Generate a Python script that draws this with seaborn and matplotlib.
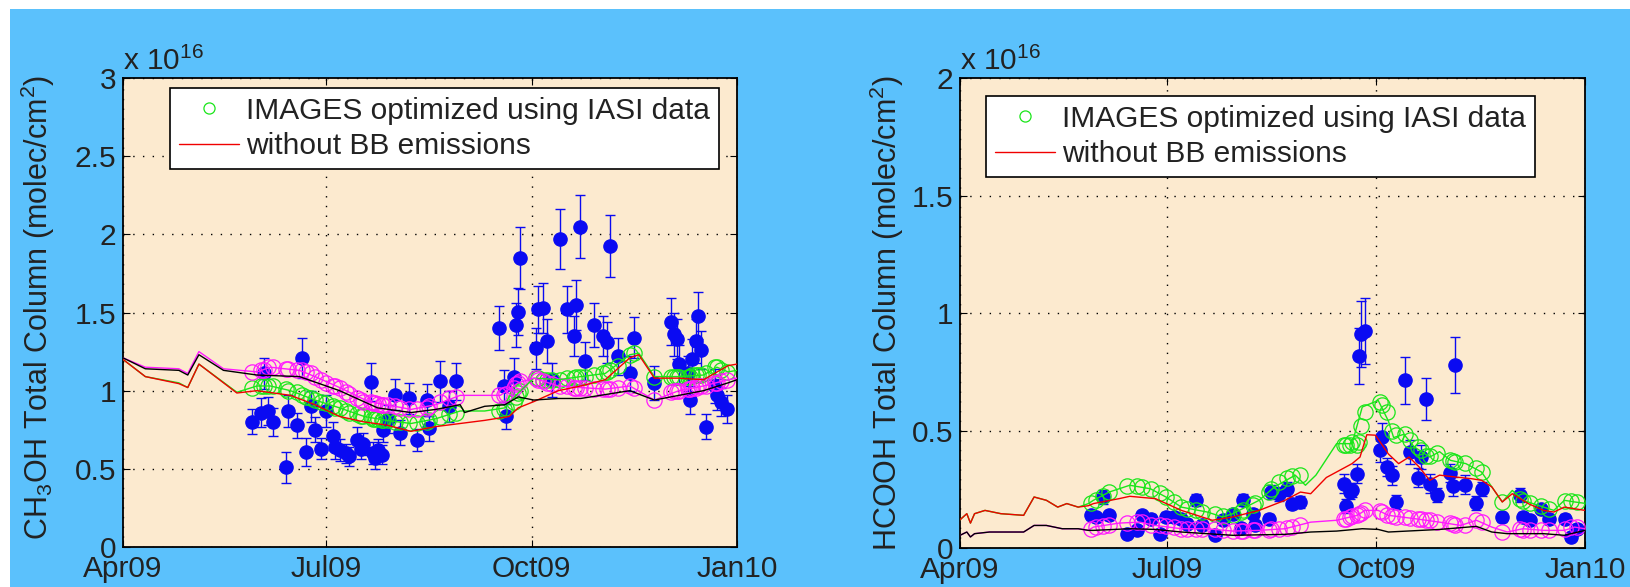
"""
CH3OH and HCOOH total columns: FTIR observations vs IMAGES model runs, Apr 2009 - Jan 2010
"""
import matplotlib
matplotlib.use('Agg')
import matplotlib.pyplot as plt
import matplotlib.dates as mdates
from matplotlib.lines import Line2D
from matplotlib.patches import Rectangle
import pandas as pd
import seaborn as sns

START = pd.Timestamp('2009-04-01')
END = pd.Timestamp('2010-01-01')

# all values in 1e16 molec/cm2, days counted from 1 Apr 2009

# ---- CH3OH ----
ch3oh_obs_day = [57.6, 62, 63, 65, 67, 73, 74, 78, 80, 82, 84, 86, 88.5, 91, 94, 95, 97, 100, 101,
                 105, 106.5, 107.6, 111, 112, 113, 114, 116, 116.5, 118.5, 122, 124, 128, 131.5, 136,
                 137, 142, 146, 149, 168.5, 170.6, 171.7, 175, 176, 177, 177.8, 184.8, 186, 188, 190,
                 192, 195.9, 199, 202, 203, 204.6, 207, 211, 215, 216.7, 218, 221.7, 227, 229, 238,
                 245.6, 246.7, 248, 249, 253, 254, 255, 256.5, 257.6, 258.7, 261, 265, 266, 268, 270.7]
ch3oh_obs = [0.80, 0.86, 1.11, 0.87, 0.80, 0.51, 0.87, 0.78, 1.21, 0.61, 0.90, 0.75, 0.63, 0.87, 0.71,
             0.64, 0.62, 0.60, 0.58, 0.685, 0.63, 0.66, 1.055, 0.60, 0.57, 0.62, 0.59, 0.75, 0.82,
             0.975, 0.73, 0.95, 0.685, 0.94, 0.76, 1.06, 0.90, 1.06, 1.40, 1.03, 0.835, 1.09, 1.42,
             1.505, 1.85, 1.27, 1.52, 1.53, 1.32, 1.07, 1.97, 1.52, 1.35, 1.55, 2.05, 1.19, 1.42, 1.35,
             1.31, 1.925, 1.22, 1.11, 1.34, 1.05, 1.44, 1.36, 1.33, 1.17, 1.11, 0.94, 1.20, 1.32, 1.48,
             1.26, 0.77, 1.03, 0.975, 0.93, 0.88]
ch3oh_err = [0.08, 0.09, 0.10, 0.09, 0.09, 0.10, 0.10, 0.08, 0.13, 0.09, 0.10, 0.08, 0.07, 0.10, 0.09,
             0.08, 0.07, 0.06, 0.06, 0.08, 0.07, 0.07, 0.12, 0.07, 0.07, 0.07, 0.06, 0.08, 0.09, 0.10,
             0.08, 0.10, 0.07, 0.10, 0.08, 0.13, 0.10, 0.12, 0.14, 0.10, 0.08, 0.12, 0.14, 0.15, 0.20,
             0.13, 0.15, 0.16, 0.14, 0.11, 0.19, 0.15, 0.13, 0.16, 0.20, 0.12, 0.14, 0.13, 0.13, 0.20,
             0.12, 0.11, 0.13, 0.11, 0.15, 0.14, 0.13, 0.12, 0.11, 0.09, 0.13, 0.14, 0.15, 0.12, 0.08,
             0.11, 0.10, 0.09, 0.09]
ch3oh_opt_at_obs = [1.02, 1.03, 1.03, 1.03, 1.03, 1.01, 1.00, 0.99, 0.97, 0.96, 0.95, 0.94, 0.93, 0.92,
                    0.90, 0.89, 0.89, 0.87, 0.86, 0.85, 0.84, 0.835, 0.83, 0.82, 0.82, 0.82, 0.81, 0.81,
                    0.81, 0.80, 0.80, 0.79, 0.79, 0.80, 0.81, 0.83, 0.85, 0.86, 0.87, 0.88, 0.89, 0.93,
                    0.96, 0.985, 1.00, 1.08, 1.08, 1.07, 1.07, 1.07, 1.07, 1.08, 1.08, 1.09, 1.09, 1.09,
                    1.10, 1.11, 1.12, 1.13, 1.16, 1.23, 1.24, 1.09, 1.09, 1.09, 1.09, 1.09, 1.09, 1.09,
                    1.10, 1.10, 1.10, 1.10, 1.11, 1.15, 1.15, 1.13, 1.12]
ch3oh_prior_at_obs = [1.12, 1.13, 1.13, 1.15, 1.15, 1.14, 1.14, 1.13, 1.13, 1.12, 1.11, 1.09, 1.07, 1.05,
                      1.03, 1.03, 1.02, 0.99, 0.98, 0.95, 0.94, 0.93, 0.925, 0.92, 0.92, 0.915, 0.91,
                      0.91, 0.91, 0.90, 0.89, 0.88, 0.88, 0.89, 0.90, 0.93, 0.95, 0.96, 0.97, 0.97, 0.98,
                      1.02, 1.04, 1.05, 1.06, 1.08, 1.07, 1.06, 1.05, 1.04, 1.03, 1.03, 1.02, 1.02, 1.02,
                      1.02, 1.01, 1.01, 1.01, 1.01, 1.02, 1.03, 1.02, 0.94, 0.99, 1.00, 1.00, 1.00, 1.01,
                      1.01, 1.02, 1.02, 1.03, 1.03, 1.03, 1.05, 1.05, 1.06, 1.07]

ch3oh_opt_day = [0, 10, 25, 29, 34, 51, 60, 66, 75, 86, 97, 108, 118, 129, 140, 151, 162, 171, 177, 184,
                 195, 205, 216, 227, 231, 238, 249, 260, 266, 271, 275]
ch3oh_opt = [1.20, 1.09, 1.05, 1.02, 1.17, 0.99, 1.03, 1.03, 1.00, 0.94, 0.89, 0.835, 0.81, 0.79, 0.82,
             0.87, 0.87, 0.89, 0.985, 1.08, 1.07, 1.09, 1.11, 1.23, 1.24, 1.09, 1.09, 1.10, 1.15, 1.12, 1.13]
ch3oh_prior_day = [0, 10, 25, 29, 34, 45, 60, 66, 79, 86, 97, 110, 118, 129, 140, 151, 162, 169, 177, 184,
                   195, 205, 216, 227, 238, 249, 260, 271, 275]
ch3oh_prior = [1.21, 1.15, 1.14, 1.11, 1.25, 1.14, 1.12, 1.15, 1.13, 1.09, 1.02, 0.93, 0.91, 0.88, 0.91,
               0.97, 0.97, 0.97, 1.05, 1.08, 1.03, 1.02, 1.01, 1.03, 0.94, 1.00, 1.03, 1.07, 1.08]
ch3oh_opt_nobb_day = [0, 10, 25, 29, 34, 51, 60, 75, 86, 97, 108, 118, 129, 140, 151, 162, 173, 177, 184,
                      195, 205, 216, 227, 231, 238, 249, 260, 271, 275]
ch3oh_opt_nobb = [1.20, 1.09, 1.045, 1.02, 1.17, 0.985, 1.00, 0.97, 0.91, 0.835, 0.80, 0.78, 0.74, 0.77,
                  0.79, 0.81, 0.835, 0.89, 0.93, 1.00, 1.03, 1.07, 1.21, 1.23, 1.08, 1.08, 1.07, 1.16, 1.17]
ch3oh_prior_nobb_day = [0, 10, 25, 29, 34, 45, 60, 79, 97, 114, 129, 140, 151, 153, 162, 171, 177, 184,
                        195, 205, 227, 238, 249, 260, 271, 275]
ch3oh_prior_nobb = [1.21, 1.14, 1.13, 1.10, 1.23, 1.13, 1.10, 1.09, 1.00, 0.89, 0.86, 0.88, 0.91, 0.86,
                    0.90, 0.91, 0.96, 0.94, 0.95, 0.95, 1.00, 0.94, 0.97, 1.00, 1.05, 1.07]

# ---- HCOOH ----
hcooh_obs_day = [57.6, 60, 63, 65.6, 73.5, 78, 80, 84, 88, 90.6, 94, 97.4, 99.7, 104, 106.5, 112, 115.6,
                 120, 123.5, 124.7, 129, 130, 136, 137, 140.5, 144, 146, 149.8, 169, 170, 171.4, 172.5,
                 174.8, 175.5, 176.6, 178, 185, 185.7, 188, 190, 192, 196, 198, 201.7, 203, 205, 206.7,
                 210, 215.8, 217, 218, 222, 227, 229.5, 238.6, 246.5, 247.7, 251, 255.6, 259, 266, 269,
                 271.6]
hcooh_obs = [0.139, 0.13, 0.217, 0.139, 0.058, 0.075, 0.139, 0.125, 0.061, 0.132, 0.132, 0.125, 0.104,
             0.203, 0.096, 0.054, 0.118, 0.146, 0.083, 0.203, 0.146, 0.096, 0.125, 0.238, 0.23, 0.252,
             0.189, 0.196, 0.274, 0.18, 0.238, 0.245, 0.316, 0.816, 0.912, 0.923, 0.415, 0.472, 0.345,
             0.31, 0.196, 0.713, 0.408, 0.30, 0.387, 0.633, 0.274, 0.224, 0.319, 0.262, 0.78, 0.27, 0.19,
             0.252, 0.13, 0.224, 0.132, 0.118, 0.167, 0.125, 0.125, 0.047, 0.082]
hcooh_err = [0.02, 0.02, 0.03, 0.02, 0.015, 0.02, 0.02, 0.02, 0.015, 0.02, 0.02, 0.02, 0.02, 0.025, 0.02,
             0.015, 0.02, 0.02, 0.02, 0.025, 0.02, 0.02, 0.02, 0.03, 0.03, 0.03, 0.025, 0.025, 0.04, 0.03,
             0.03, 0.03, 0.04, 0.12, 0.14, 0.14, 0.05, 0.06, 0.04, 0.04, 0.03, 0.10, 0.05, 0.04, 0.05, 0.09,
             0.04, 0.03, 0.04, 0.04, 0.12, 0.04, 0.03, 0.03, 0.02, 0.03, 0.02, 0.02, 0.02, 0.02, 0.02, 0.015,
             0.02]
hcooh_opt_at_obs = [0.19, 0.205, 0.22, 0.238, 0.262, 0.265, 0.26, 0.252, 0.235, 0.217, 0.195, 0.174,
                    0.168, 0.16, 0.155, 0.145, 0.135, 0.14, 0.155, 0.16, 0.185, 0.19, 0.24, 0.25, 0.28,
                    0.30, 0.305, 0.31, 0.44, 0.44, 0.44, 0.45, 0.44, 0.45, 0.52, 0.58, 0.62, 0.61, 0.58,
                    0.50, 0.48, 0.485, 0.46, 0.43, 0.415, 0.39, 0.39, 0.405, 0.375, 0.37, 0.365, 0.36,
                    0.34, 0.325, 0.196, 0.21, 0.20, 0.19, 0.178, 0.165, 0.20, 0.198, 0.195]
hcooh_prior_at_obs = [0.08, 0.09, 0.095, 0.10, 0.105, 0.11, 0.11, 0.10, 0.097, 0.093, 0.088, 0.082,
                      0.082, 0.082, 0.082, 0.08, 0.076, 0.072, 0.073, 0.074, 0.075, 0.075, 0.078, 0.079,
                      0.08, 0.085, 0.09, 0.10, 0.125, 0.125, 0.13, 0.135, 0.14, 0.145, 0.15, 0.16, 0.158,
                      0.155, 0.14, 0.135, 0.133, 0.13, 0.128, 0.124, 0.122, 0.12, 0.118, 0.112, 0.105,
                      0.102, 0.10, 0.10, 0.118, 0.11, 0.07, 0.08, 0.078, 0.077, 0.075, 0.075, 0.08, 0.088,
                      0.088]

hcooh_opt_day = [0, 3, 4.6, 6.4, 11, 18, 28, 32.6, 38, 43, 47, 52, 56.5, 58.7, 65.6, 74.7, 83.8, 90.6,
                 97.4, 108.8, 115.6, 120, 131.6, 138.4, 147.5, 152, 156.6, 165.7, 172.5, 177, 184, 188.5,
                 190.8, 195.3, 199.9, 206.7, 211, 215.8, 222.6, 229.5, 234, 238.6, 243, 247.7, 256.8,
                 261.3, 265.9, 270.4, 275]
hcooh_opt = [0.12, 0.146, 0.106, 0.146, 0.16, 0.146, 0.139, 0.217, 0.203, 0.174, 0.189, 0.174, 0.189,
             0.203, 0.238, 0.267, 0.252, 0.217, 0.174, 0.153, 0.132, 0.146, 0.203, 0.26, 0.31, 0.267,
             0.31, 0.444, 0.444, 0.60, 0.628, 0.54, 0.47, 0.484, 0.43, 0.387, 0.41, 0.373, 0.359, 0.323,
             0.26, 0.196, 0.245, 0.203, 0.174, 0.16, 0.203, 0.196, 0.19]
hcooh_opt_nobb_day = [0, 3, 4.6, 6.4, 11, 18, 28, 32.6, 38, 43, 47, 52, 56.5, 58.7, 70, 74.7, 86, 97.4,
                      111, 120, 131.6, 143, 149.8, 154.3, 161.2, 172.5, 176, 179, 182.8, 188.5, 193,
                      197.6, 202, 206.7, 211, 218, 225, 229.5, 234, 238.6, 243, 250, 256.8, 261.3, 265.9, 275]
hcooh_opt_nobb = [0.12, 0.146, 0.106, 0.146, 0.16, 0.146, 0.139, 0.217, 0.203, 0.174, 0.189, 0.174, 0.18,
                  0.189, 0.21, 0.22, 0.21, 0.16, 0.118, 0.132, 0.16, 0.203, 0.238, 0.231, 0.30, 0.359,
                  0.387, 0.482, 0.48, 0.40, 0.359, 0.387, 0.345, 0.288, 0.31, 0.302, 0.295, 0.288, 0.26,
                  0.196, 0.231, 0.189, 0.16, 0.153, 0.174, 0.16]
hcooh_prior_day = [0, 3, 4.6, 6.4, 13, 28, 32.6, 38, 45, 52, 56.5, 58.7, 70, 79, 86, 97.4, 108.8, 120,
                   131.6, 143, 154.3, 165.7, 174.8, 178.2, 184, 188.5, 199.9, 211, 220.3, 227.2, 234,
                   240.8, 247.7, 256.8, 265.9, 270.4, 275]
hcooh_prior = [0.054, 0.068, 0.047, 0.061, 0.068, 0.068, 0.096, 0.096, 0.082, 0.082, 0.075, 0.089, 0.106,
               0.11, 0.096, 0.082, 0.082, 0.072, 0.075, 0.082, 0.11, 0.118, 0.139, 0.16, 0.16, 0.139,
               0.125, 0.11, 0.096, 0.118, 0.089, 0.068, 0.082, 0.075, 0.075, 0.089, 0.082]
hcooh_prior_nobb_day = [0, 3, 4.6, 6.4, 13, 28, 32.6, 38, 45, 52, 56.5, 58.7, 74.7, 86, 97.4, 120, 143,
                        154.3, 165.7, 177, 184, 188.5, 211, 227.2, 234, 240.8, 256.8, 265.9, 275]
hcooh_prior_nobb = [0.054, 0.068, 0.047, 0.061, 0.068, 0.068, 0.096, 0.096, 0.082, 0.082, 0.075, 0.075,
                    0.082, 0.079, 0.068, 0.054, 0.058, 0.068, 0.072, 0.082, 0.079, 0.068, 0.079, 0.092,
                    0.068, 0.061, 0.061, 0.054, 0.075]

BLUE_BG = '#5BC1FC'
AX_BG = '#FCEACF'
OBS_BLUE = '#0A0AF2'
GREEN = '#19E619'
MAGENTA = '#FF19FF'
RED = '#F00000'
FS = 21.5


def to_dates(days):
	return START + pd.to_timedelta(days, unit='D')


def draw_panel(ax, obs_day, obs, err, opt_obs, prior_obs, lines, ymax, ylabel):
	ax.set_facecolor(AX_BG)
	obs_x = to_dates(obs_day)
	ax.errorbar(obs_x, obs, yerr=err, fmt='o', color=OBS_BLUE, ms=9.5, elinewidth=1.0,
				capsize=3.5, capthick=1.0, zorder=2)
	ax.plot(obs_x, opt_obs, 'o', mfc='none', mec=GREEN, ms=11, mew=0.9, zorder=3)
	ax.plot(obs_x, prior_obs, 'o', mfc='none', mec=MAGENTA, ms=11, mew=0.9, zorder=3)
	for day, val, col in lines:
		df = pd.DataFrame({'date': to_dates(day), 'value': val})
		sns.lineplot(data=df, x='date', y='value', color=col, lw=1.0, estimator=None,
					 sort=False, ax=ax, zorder=4)

	ax.set_xlim(START, END)
	ax.set_ylim(0, ymax)
	ax.set_yticks([i * 0.5 for i in range(int(ymax * 2) + 1)])
	ax.set_yticklabels(['0', '0.5', '1', '1.5', '2', '2.5', '3'][:int(ymax * 2) + 1])
	ax.xaxis.set_major_locator(mdates.MonthLocator(bymonth=[1, 4, 7, 10]))
	ax.xaxis.set_major_formatter(mdates.DateFormatter('%b%y'))
	ax.set_xlabel('')
	ax.set_ylabel(ylabel, fontsize=22, color='#222222')
	ax.tick_params(direction='in', length=5, width=0.8, labelsize=FS, colors='black',
				   labelcolor='#222222', top=True, right=True, pad=5)
	ax.tick_params(axis='x', pad=6)
	ax.grid(True, ls=(0, (1, 6)), color='black', lw=1.0)
	for sp in ax.spines.values():
		sp.set_linewidth(1.3)
		sp.set_color('black')
	ax.text(0, 1.018, 'x 10$^{16}$', transform=ax.transAxes, ha='left', va='baseline',
			fontsize=FS, color='#222222')

	handles = [Line2D([], [], marker='o', ls='none', mfc='none', mec=GREEN, ms=8, mew=0.9),
			   Line2D([], [], color=RED, lw=1.0)]
	leg = ax.legend(handles, ['IMAGES optimized using IASI data', 'without BB emissions'],
					fontsize=FS, frameon=True, fancybox=False, framealpha=1, edgecolor='black',
					loc='upper left', borderaxespad=0, handlelength=2.0, handletextpad=0.25,
					labelspacing=0.25, borderpad=0.3)
	leg.get_frame().set_linewidth(1.2)
	for t in leg.get_texts():
		t.set_color('#222222')
	return leg


sns.set_style('ticks')
plt.rcParams['font.family'] = ['Liberation Sans', 'DejaVu Sans']
plt.rcParams['mathtext.default'] = 'regular'

fig = plt.figure(figsize=(16.3, 5.87), dpi=100, facecolor='white')
fig.patches.append(Rectangle((10 / 1630, 0), 1, (587 - 9) / 587, transform=fig.transFigure,
							 facecolor=BLUE_BG, edgecolor='none', zorder=-1))

ax1 = fig.add_axes([123 / 1630, 40 / 587, 614 / 1630, 469 / 587])
leg1 = draw_panel(ax1, ch3oh_obs_day, ch3oh_obs, ch3oh_err, ch3oh_opt_at_obs, ch3oh_prior_at_obs,
				  [(ch3oh_opt_day, ch3oh_opt, GREEN), (ch3oh_prior_day, ch3oh_prior, MAGENTA),
				   (ch3oh_opt_nobb_day, ch3oh_opt_nobb, RED), (ch3oh_prior_nobb_day, ch3oh_prior_nobb, 'black')],
				  3, 'CH$_3$OH Total Column (molec/cm$^2$)')
leg1.set_bbox_to_anchor((0.0765, 0.979))
ax1.yaxis.set_label_coords(-0.108, 0.51)

ax2 = fig.add_axes([960 / 1630, 39 / 587, 625 / 1630, 470 / 587])
leg2 = draw_panel(ax2, hcooh_obs_day, hcooh_obs, hcooh_err, hcooh_opt_at_obs, hcooh_prior_at_obs,
				  [(hcooh_opt_day, hcooh_opt, GREEN), (hcooh_prior_day, hcooh_prior, MAGENTA),
				   (hcooh_opt_nobb_day, hcooh_opt_nobb, RED), (hcooh_prior_nobb_day, hcooh_prior_nobb, 'black')],
				  2, 'HCOOH Total Column (molec/cm$^2$)')
leg2.set_bbox_to_anchor((0.0416, 0.962))
leg2.borderpad = 0.42
ax2.yaxis.set_label_coords(-0.087, 0.5)

fig.savefig('out.png', dpi=100, facecolor=fig.get_facecolor())
